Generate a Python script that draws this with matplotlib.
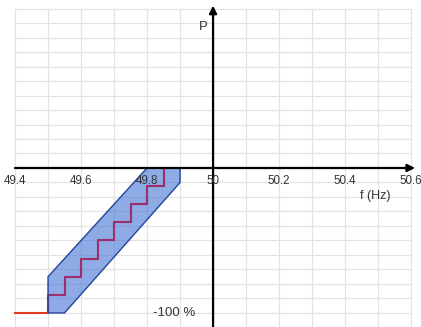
import matplotlib
matplotlib.use("Agg")
import matplotlib.pyplot as plt
from matplotlib.patches import Polygon

# Frequency axis ticks (Hz) and labels
freq_ticks = [49.4, 49.5, 49.6, 49.7, 49.8, 49.9, 50.0, 50.1, 50.2, 50.3, 50.4, 50.5, 50.6]
freq_labels = ["49.4", "49.6", "49.8", "50", "50.2", "50.4", "50.6"]
freq_label_pos = [49.4, 49.6, 49.8, 50.0, 50.2, 50.4, 50.6]

# Power grid levels (% of rated power)
power_grid = list(range(-110, 111, 10))

# Staircase power reduction: frequency where each step starts and power level held
step_freq = [49.4, 49.5, 49.55, 49.6, 49.65, 49.7, 49.75, 49.8, 49.85]
step_power = [-100, -87.5, -75, -62.5, -50, -37.5, -25, -12.5, 0]

# Tolerance band outline (frequency Hz, power %)
band_freq = [49.5, 49.5, 49.8, 49.9, 49.9, 49.55]
band_power = [-100, -75, 0, 0, -10, -100]

plt.rcParams['font.family'] = ['Liberation Sans', 'DejaVu Sans']

fig = plt.figure(figsize=(4.21, 3.27), dpi=100)
ax = fig.add_axes([0, 0, 1, 1])
ax.set_xlim(49.3545, 50.630)
ax.set_ylim(-109.7, 115.9)
ax.axis("off")

# Light grid
grid_c = "#e3e3e3"
ax.vlines(freq_ticks, -110, 110, colors=grid_c, lw=0.9, zorder=0)
ax.hlines(power_grid, 49.4, 50.6, colors=grid_c, lw=0.9, zorder=0)

# Staircase characteristic (red outside the band)
ax.plot(step_freq, step_power, drawstyle="steps-post", color="#e23a22", lw=1.5, zorder=2)

# Tolerance band
pts = list(zip(band_freq, band_power))
band = Polygon(pts, closed=True, facecolor="#4a78d8", alpha=0.62,
               edgecolor="none", zorder=3)
ax.add_patch(band)

# Staircase seen through the band
inner, = ax.plot(step_freq, step_power, drawstyle="steps-post", color="#9c2f6c",
                 lw=1.5, zorder=3.5)
inner.set_clip_path(band)

ax.add_patch(Polygon(pts, closed=True, facecolor="none", edgecolor="#23449a",
                     lw=1.0, zorder=4))

# Axes with arrows
ax.annotate("", xy=(50.612, 0), xytext=(49.4, 0),
            arrowprops=dict(arrowstyle="-|>", color="black", lw=1.6,
                            mutation_scale=11, shrinkA=0, shrinkB=0), zorder=5)
ax.annotate("", xy=(50.0, 112), xytext=(50.0, -112),
            arrowprops=dict(arrowstyle="-|>", color="black", lw=1.6,
                            mutation_scale=11, shrinkA=0, shrinkB=0), zorder=5)

# Tick labels
for pos, lab in zip(freq_label_pos, freq_labels):
    ax.text(pos, -9, lab, ha="center", va="center", fontsize=8.3, color="#333333", zorder=6)

ax.text(50.49, -19.5, "f (Hz)", ha="center", va="center", fontsize=9, color="#333333", zorder=6)
ax.text(49.97, 97, "P", ha="center", va="center", fontsize=9.5, color="#333333", zorder=6)
ax.text(49.945, -100, "-100 %", ha="right", va="center", fontsize=9.5, color="#333333", zorder=6)

fig.savefig("out.png", dpi=100)
